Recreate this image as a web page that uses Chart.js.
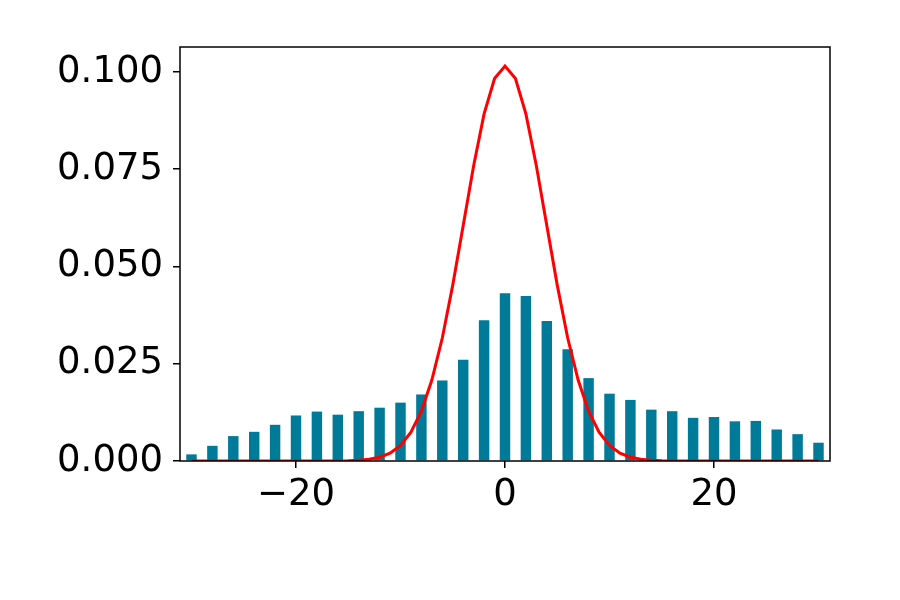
<!DOCTYPE html>
<html>
<head>
<meta charset="utf-8">
<script src="https://cdn.jsdelivr.net/npm/chart.js@4"></script>
<style>
  html, body { margin: 0; padding: 0; background: #fff; }
  #wrap { width: 900px; height: 600px; }
</style>
</head>
<body>
<div id="wrap"><canvas id="histChart" width="900" height="600"></canvas></div>
<script>
// histogram bins (even positions) and their heights
const barX = [-30, -28, -26, -24, -22, -20, -18, -16, -14, -12, -10, -8, -6, -4, -2, 0,
  2, 4, 6, 8, 10, 12, 14, 16, 18, 20, 22, 24, 26, 28, 30];
const barY = [0.0017, 0.0039, 0.0064, 0.0075, 0.0093, 0.0117, 0.0127, 0.0119, 0.0128, 0.0137,
  0.0150, 0.0171, 0.0207, 0.0260, 0.0362, 0.0431, 0.0424, 0.0360, 0.0287, 0.0213, 0.0173,
  0.0157, 0.0132, 0.0128, 0.0111, 0.0113, 0.0102, 0.0103, 0.0081, 0.0069, 0.0047];

// red curve, one point per unit
const curveX = [-30, -29, -28, -27, -26, -25, -24, -23, -22, -21, -20, -19, -18, -17, -16, -15,
  -14, -13, -12, -11, -10, -9, -8, -7, -6, -5, -4, -3, -2, -1, 0, 1, 2, 3, 4, 5, 6, 7, 8, 9,
  10, 11, 12, 13, 14, 15, 16, 17, 18, 19, 20, 21, 22, 23, 24, 25, 26, 27, 28, 29, 30];
const curveY = [0, 0, 0, 0, 0, 0, 0, 0, 0, 0, 0, 0, 0, 0.00001, 0.00003, 0.00007,
  0.00018, 0.00043, 0.00096, 0.0020, 0.0040, 0.0074, 0.0128, 0.0208, 0.0316, 0.0452, 0.0605,
  0.0759, 0.0892, 0.0983, 0.1015, 0.0983, 0.0892, 0.0759, 0.0605, 0.0452, 0.0316, 0.0208,
  0.0128, 0.0074, 0.0040, 0.0020, 0.00096, 0.00043, 0.00018, 0.00007, 0.00003, 0.00001,
  0, 0, 0, 0, 0, 0, 0, 0, 0, 0, 0, 0, 0];

const xTicks = [-20, 0, 20];
const yTicks = [0, 0.025, 0.05, 0.075, 0.1];

const frame = {
  id: 'frame',
  afterDatasetsDraw(chart) {
    const a = chart.chartArea, c = chart.ctx;
    c.save();
    c.strokeStyle = '#000';
    c.lineWidth = 1.5;
    c.strokeRect(a.left, a.top, a.right - a.left, a.bottom - a.top);
    c.restore();
  }
};

const font = { family: 'DejaVu Sans', size: 37 };

const ctx = document.getElementById('histChart').getContext('2d');
new Chart(ctx, {
  type: 'bar',
  data: {
    datasets: [{
      type: 'line',
      data: curveX.map((x, i) => ({ x: x, y: curveY[i] })),
      borderColor: 'red',
      borderWidth: 3,
      pointRadius: 0,
      tension: 0,
      fill: false,
      order: 0
    }, {
      type: 'bar',
      data: barX.map((x, i) => ({ x: x, y: barY[i] })),
      backgroundColor: '#007a99',
      borderWidth: 0,
      barPercentage: 0.5,
      categoryPercentage: 1,
      order: 1
    }]
  },
  options: {
    responsive: false,
    animation: false,
    layout: { padding: { left: 0, right: 70, top: 47, bottom: 0 } },
    plugins: { legend: { display: false }, tooltip: { enabled: false } },
    scales: {
      x: {
        type: 'linear',
        min: -31.1,
        max: 31.1,
        offset: false,
        afterBuildTicks: s => { s.ticks = xTicks.map(v => ({ value: v })); },
        afterFit: s => { s.height = 139; },
        border: { display: false },
        grid: { display: true, drawOnChartArea: false, color: '#000', lineWidth: 1.5, tickLength: 7, offset: false },
        ticks: {
          color: '#000', font: font, padding: 5, maxRotation: 0,
          callback: v => (v < 0 ? '\u2212' + Math.abs(v) : String(v))
        }
      },
      y: {
        min: 0,
        max: 0.1064,
        afterBuildTicks: s => { s.ticks = yTicks.map(v => ({ value: v })); },
        afterFit: s => { s.width = 180; },
        border: { display: false },
        grid: { display: true, drawOnChartArea: false, color: '#000', lineWidth: 1.5, tickLength: 7 },
        ticks: {
          color: '#000', font: font, padding: 10,
          callback: v => v.toFixed(3)
        }
      }
    }
  },
  plugins: [frame]
});
</script>
</body>
</html>
